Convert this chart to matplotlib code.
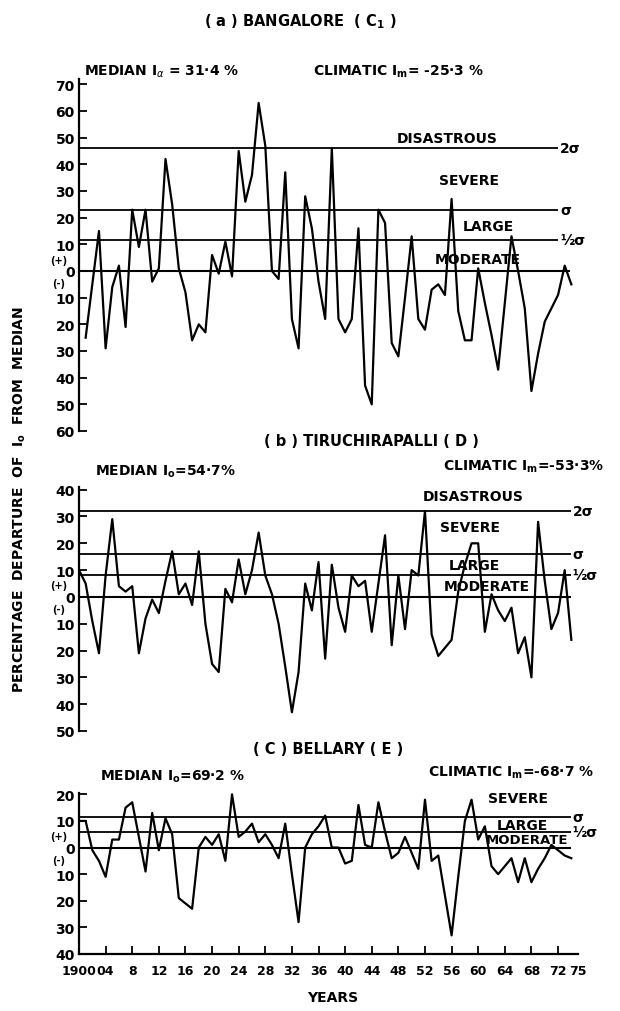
import numpy as np
import matplotlib
matplotlib.use("Agg")
import matplotlib.pyplot as plt

plt.rcParams['font.family'] = ['DejaVu Sans']
plt.rcParams['mathtext.fontset'] = 'dejavusans'

# departure of Ia from median (%)
years_a = list(range(1901, 1975))
dep_a = [-25, -5, 15, -29, -6, 2, -21, 23, 9, 23,
         -4, 1, 42, 25, 1, -8, -26, -20, -23, 6,
         -1, 11, -2, 45, 26, 36, 63, 47, 0, -3,
         37, -18, -29, 28, 16, -4, -18, 46, -18, -23,
         -18, 16, -43, -50, 23, 18, -27, -32, -10, 13,
         -18, -22, -7, -5, -9, 27, -15, -26, -26, 1,
         -12, -24, -37, -12, 13, 0, -14, -45, -31, -19,
         -14, -9, 2, -5]

years_b = list(range(1900, 1975))
dep_b = [10, 5, -9, -21, 8, 29, 4, 2, 4, -21,
         -8, -1, -6, 6, 17, 1, 5, -3, 17, -10,
         -25, -28, 3, -2, 14, 1, 10, 24, 8, 1,
         -10, -26, -43, -28, 5, -5, 13, -23, 12, -4,
         -13, 8, 4, 6, -13, 5, 23, -18, 8, -12,
         10, 8, 32, -14, -22, -19, -16, 2, 12, 20,
         20, -13, 1, -5, -9, -4, -21, -15, -30, 28,
         6, -12, -6, 10, -16]

years_c = list(range(1900, 1975))
dep_c = [10, 10, -1, -5, -11, 3, 3, 15, 17, 4,
         -9, 13, -1, 11, 5, -19, -21, -23, 0, 4,
         1, 5, -5, 20, 4, 6, 9, 2, 5, 1,
         -4, 9, -10, -28, 0, 5, 8, 12, 0, 0,
         -6, -5, 16, 1, 0, 17, 6, -4, -2, 4,
         -2, -8, 18, -5, -3, -18, -33, -11, 10, 18,
         3, 8, -7, -10, -7, -4, -13, -4, -13, -8,
         -4, 1, -1, -3, -4]

# category thresholds (2 sigma, sigma, half sigma)
levels_a = [46, 23, 11.5]
levels_b = [32, 16, 8]
levels_c = [11.6, 5.8]

ticks_a = [70, 60, 50, 40, 30, 20, 10, 0, -10, -20, -30, -40, -50, -60]
ticks_b = [40, 30, 20, 10, 0, -10, -20, -30, -40, -50]
ticks_c = [20, 10, 0, -10, -20, -30, -40]

xticks = list(range(1900, 1973, 4))
xticklabels = ['1900', '04', '8'] + [str(y - 1900) for y in xticks[3:]]

W, H = 620, 1012
fig = plt.figure(figsize=(W / 100, H / 100), dpi=100)


def px_axes(top, bottom):
    # axes rect from pixel rows, x from 1900 (79px) to 1975 (578px)
    return [79 / W, 1 - bottom / H, (578 - 79) / W, (bottom - top) / H]


def ftext(x, y, s, **kw):
    kw.setdefault('fontsize', 10)
    kw.setdefault('fontweight', 'bold')
    fig.text(x / W, 1 - y / H, s, va='center', **kw)


def style(ax, ticks, ylim, bottom=False):
    ax.set_xlim(1900, 1975)
    ax.set_ylim(*ylim)
    ax.spines['top'].set_visible(False)
    ax.spines['right'].set_visible(False)
    ax.spines['left'].set_linewidth(1.6)
    ax.spines['bottom'].set_visible(bottom)
    ax.spines['bottom'].set_linewidth(1.6)
    ax.set_yticks(ticks)
    ax.set_yticklabels([str(abs(t)) for t in ticks], fontsize=10, fontweight='bold')
    ax.tick_params(axis='y', direction='in', length=6, width=1.3, pad=3)
    ax.text(-0.04, 4.3, '(+)', transform=ax.get_yaxis_transform(), ha='center',
            va='center', fontsize=7, fontweight='bold')
    ax.text(-0.04, -4.5, '(-)', transform=ax.get_yaxis_transform(), ha='center',
            va='center', fontsize=7, fontweight='bold')
    ax.patch.set_alpha(0)


# ---------------- (a) Bangalore ----------------
ax1 = fig.add_axes(px_axes(80, 432))
style(ax1, ticks_a, (-60, 72))
ax1.set_xticks([])
ax1.hlines(levels_a, 1900, 1972, color='black', lw=1.3)
ax1.hlines(0, 1900, 1973.8, color='black', lw=1.5)
ax1.plot(years_a, dep_a, color='black', lw=1.6)
for s, lv in zip(['2σ', 'σ', '½σ'], levels_a):
    ax1.text(1972.3, lv, s, fontsize=10, fontweight='bold', va='center')
ax1.text(1955.3, 50, 'DISASTROUS', fontsize=10, fontweight='bold', ha='center', va='center')
ax1.text(1958.6, 34, 'SEVERE', fontsize=10, fontweight='bold', ha='center', va='center')
ax1.text(1961.5, 17, 'LARGE', fontsize=10, fontweight='bold', ha='center', va='center')
ax1.text(1960, 4.5, 'MODERATE', fontsize=10, fontweight='bold', ha='center', va='center')

ftext(300, 22, '( a ) BANGALORE  ( C$_\\mathbf{1}$ )', ha='center', fontsize=10.5)
ftext(84, 72, 'MEDIAN I$_\\alpha$ = 31·4 %', ha='left')
ftext(313, 72, 'CLIMATIC I$_\\mathbf{m}$= -25·3 %', ha='left')

# ---------------- (b) Tiruchirapalli ----------------
ax2 = fig.add_axes(px_axes(488, 732))
style(ax2, ticks_b, (-50, 41))
ax2.set_xticks([])
ax2.hlines(levels_b, 1900, 1974, color='black', lw=1.3)
ax2.hlines(0, 1900, 1974, color='black', lw=1.5)
ax2.plot(years_b, dep_b, color='black', lw=1.6)
for s, lv in zip(['2σ', 'σ', '½σ'], levels_b):
    ax2.text(1974.2, lv, s, fontsize=10, fontweight='bold', va='center')
ax2.text(1959.3, 37.5, 'DISASTROUS', fontsize=10, fontweight='bold', ha='center', va='center')
ax2.text(1958.8, 26, 'SEVERE', fontsize=10, fontweight='bold', ha='center', va='center')
ax2.text(1959.5, 12, 'LARGE', fontsize=10, fontweight='bold', ha='center', va='center')
ax2.text(1961.3, 4, 'MODERATE', fontsize=10, fontweight='bold', ha='center', va='center')

ftext(371, 442, '( b ) TIRUCHIRAPALLI ( D )', ha='center', fontsize=10.5)
ftext(95, 472, 'MEDIAN I$_\\mathbf{o}$=54·7%', ha='left')
ftext(443, 467, 'CLIMATIC I$_\\mathbf{m}$=-53·3%', ha='left')

# ---------------- (c) Bellary ----------------
ax3 = fig.add_axes(px_axes(794, 955))
style(ax3, ticks_c, (-40, 20.5), bottom=True)
ax3.set_xticks(xticks)
ax3.set_xticklabels(xticklabels, fontsize=9, fontweight='bold')
ax3.tick_params(axis='x', direction='in', length=6, width=1.3, pad=7)
ax3.text(1975, -0.062, '75', transform=ax3.get_xaxis_transform(), fontsize=9,
         fontweight='bold', ha='center', va='top')
ax3.hlines(levels_c, 1900, 1974, color='black', lw=1.3)
ax3.hlines(0, 1900, 1974, color='black', lw=1.5)
ax3.plot(years_c, dep_c, color='black', lw=1.6)
for s, lv in zip(['σ', '½σ'], levels_c):
    ax3.text(1974.2, lv, s, fontsize=10, fontweight='bold', va='center')
ax3.text(1966, 18.5, 'SEVERE', fontsize=10, fontweight='bold', ha='center', va='center')
ax3.text(1966.6, 8.6, 'LARGE', fontsize=10, fontweight='bold', ha='center', va='center')
ax3.text(1967.4, 3.2, 'MODERATE', fontsize=9.5, fontweight='bold', ha='center', va='center')

ftext(328, 750, '( C ) BELLARY ( E )', ha='center', fontsize=10.5)
ftext(100, 777, 'MEDIAN I$_\\mathbf{o}$=69·2 %', ha='left')
ftext(428, 773, 'CLIMATIC I$_\\mathbf{m}$=-68·7 %', ha='left')
ftext(333, 998, 'YEARS', ha='center')

ftext(20, 500, 'PERCENTAGE  DEPARTURE  OF  I$_\\mathbf{o}$  FROM  MEDIAN', ha='center',
      rotation=90)

fig.savefig('out.png', dpi=100)
